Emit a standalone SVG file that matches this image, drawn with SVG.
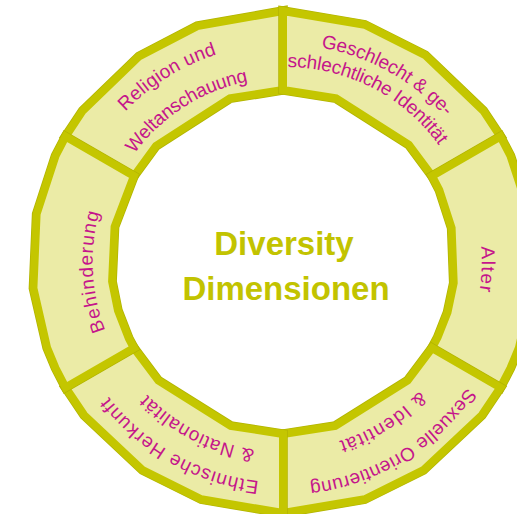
<svg xmlns="http://www.w3.org/2000/svg" xmlns:xlink="http://www.w3.org/1999/xlink" width="517" height="514" viewBox="0 0 517 514">
<style>
.seg{fill:#ebeba6;stroke:#c4c600;stroke-width:8;stroke-linejoin:miter;stroke-miterlimit:10}
.edge{fill:none;stroke:#b2b400;stroke-width:9.5;stroke-linejoin:miter;stroke-miterlimit:10}
.lbl{font-family:"Liberation Sans",Arial,sans-serif;font-size:19px;fill:#c5168b;text-anchor:middle}
.title{font-family:"Liberation Sans",Arial,sans-serif;font-size:33px;font-weight:bold;fill:#c2c300;text-anchor:middle}
</style>
<defs>
<path id="p1" d="M88.8,361.0 A218,218 0 0 1 457.1,130.8"/>
<path id="p2" d="M119.8,346.9 A184,184 0 0 1 429.0,150.0"/>
<path id="p3" d="M97.3,147.8 A218,218 0 0 1 477.9,359.6"/>
<path id="p4" d="M120.5,168.3 A187,187 0 0 1 452.9,340.2"/>
<path id="p5" d="M307.3,64.5 A199,199 0 0 1 293.4,460.7"/>
<path id="p6" d="M276.4,451.9 A190,190 0 0 1 256.6,73.8"/>
<path id="p7" d="M466.1,387.5 A222,222 0 0 1 80.8,171.1"/>
<path id="p8" d="M442.4,361.7 A188,188 0 0 1 108.7,190.8"/>
<path id="p9" d="M482.9,163.2 A223,223 0 0 1 103.3,394.0"/>
<path id="p10" d="M450.9,176.5 A188.5,188.5 0 0 1 132.5,375.4"/>
</defs>
<rect width="517" height="514" fill="#ffffff"/>
<g id="connectors"></g>
<g id="religion">
<polygon class="edge" points="65.6,136.5 82.6,110.9 139.0,56.4 197.2,26.1 283,11 283,90 229.9,98.4 156.0,146.0 134.0,176.0"/>
<polygon class="seg" points="65.6,136.5 82.6,110.9 139.0,56.4 197.2,26.1 283,11 283,90 229.9,98.4 156.0,146.0 134.0,176.0"/>
<text class="lbl"><textPath xlink:href="#p1" href="#p1" startOffset="50%" textLength="109" lengthAdjust="spacing">Religion und</textPath></text>
<text class="lbl"><textPath xlink:href="#p2" href="#p2" startOffset="50%" textLength="138" lengthAdjust="spacing">Weltanschauung</textPath></text>
</g>
<g id="geschlecht">
<polygon class="edge" points="283,11 364.7,24.7 425.2,55.1 483.4,110.9 500.4,136.5 432.0,176.0 408.8,144.7 336.1,98.4 283,90"/>
<polygon class="seg" points="283,11 364.7,24.7 425.2,55.1 483.4,110.9 500.4,136.5 432.0,176.0 408.8,144.7 336.1,98.4 283,90"/>
<text class="lbl"><textPath xlink:href="#p3" href="#p3" startOffset="50%" textLength="145" lengthAdjust="spacing">Geschlecht &amp; ge-</textPath></text>
<text class="lbl"><textPath xlink:href="#p4" href="#p4" startOffset="50%" textLength="177" lengthAdjust="spacing">schlechtliche Identität</textPath></text>
</g>
<g id="alter">
<polygon class="edge" points="500.4,136.5 510.5,155.9 529.4,214.1 532.6,288.2 518.9,347.8 510.5,368.1 500.4,387.5 432.0,348.0 437.6,337.4 447.5,312.3 453.7,283.0 451.6,228.0 439.3,190.1 432.0,176.0"/>
<polygon class="seg" points="500.4,136.5 510.5,155.9 529.4,214.1 532.6,288.2 518.9,347.8 510.5,368.1 500.4,387.5 432.0,348.0 437.6,337.4 447.5,312.3 453.7,283.0 451.6,228.0 439.3,190.1 432.0,176.0"/>
<text class="lbl"><textPath xlink:href="#p5" href="#p5" startOffset="50%" textLength="45" lengthAdjust="spacing">Alter</textPath></text>
</g>
<g id="sexuelle">
<polygon class="edge" points="500.4,387.5 481.9,415.1 423.4,470.1 364.7,499.3 283,513 283,434 335.3,425.9 407.6,380.6 432.0,348.0"/>
<polygon class="seg" points="500.4,387.5 481.9,415.1 423.4,470.1 364.7,499.3 283,513 283,434 335.3,425.9 407.6,380.6 432.0,348.0"/>
<text class="lbl"><textPath xlink:href="#p9" href="#p9" startOffset="50%" textLength="190" lengthAdjust="spacing">Sexuelle Orientierung</textPath></text>
<text class="lbl"><textPath xlink:href="#p10" href="#p10" startOffset="50%" textLength="96" lengthAdjust="spacing">&amp; Identität</textPath></text>
</g>
<g id="ethnische">
<polygon class="edge" points="283,513 201.3,499.3 142.6,470.1 84.1,415.1 65.6,387.5 134.0,348.0 158.4,380.6 230.7,425.9 283,434"/>
<polygon class="seg" points="283,513 201.3,499.3 142.6,470.1 84.1,415.1 65.6,387.5 134.0,348.0 158.4,380.6 230.7,425.9 283,434"/>
<text class="lbl"><textPath xlink:href="#p7" href="#p7" startOffset="50%" textLength="177" lengthAdjust="spacing">Ethnische Herkunft</textPath></text>
<text class="lbl"><textPath xlink:href="#p8" href="#p8" startOffset="50%" textLength="123" lengthAdjust="spacing">&amp; Nationalität</textPath></text>
</g>
<g id="behinderung">
<polygon class="edge" points="65.6,387.5 55.5,368.1 47.1,347.8 33.4,288.2 36.6,214.1 55.5,155.9 65.6,136.5 134.0,176.0 114.6,226.8 112.1,281.5 118.0,310.6 128.9,338.5 134.0,348.0"/>
<polygon class="seg" points="65.6,387.5 55.5,368.1 47.1,347.8 33.4,288.2 36.6,214.1 55.5,155.9 65.6,136.5 134.0,176.0 114.6,226.8 112.1,281.5 118.0,310.6 128.9,338.5 134.0,348.0"/>
<text class="lbl"><textPath xlink:href="#p6" href="#p6" startOffset="50%" textLength="120" lengthAdjust="spacing">Behinderung</textPath></text>
</g>
<g id="title">
<text class="title" x="284" y="255">Diversity</text>
<text class="title" x="286" y="300">Dimensionen</text>
</g>
</svg>
